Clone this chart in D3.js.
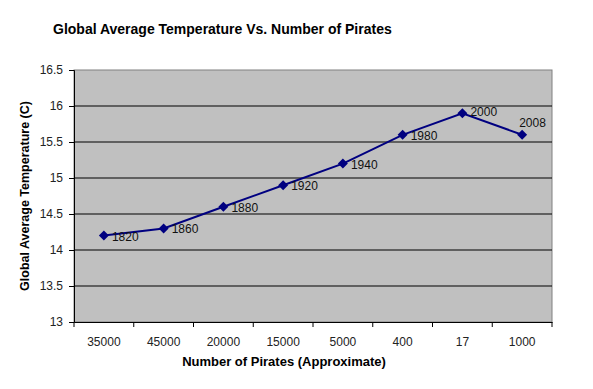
<!DOCTYPE html>
<html><head><meta charset="utf-8">
<script src="https://cdn.jsdelivr.net/npm/d3@7"></script>
<style>body{margin:0;background:#fff;}svg{display:block;font-family:Arial,"Liberation Sans",sans-serif;}</style>
</head><body><svg id="c" width="593" height="389"></svg>
<script>
const pirates = ["35000","45000","20000","15000","5000","400","17","1000"];
const temps = [14.2,14.3,14.6,14.9,15.2,15.6,15.9,15.6];
const years = ["1820","1860","1880","1920","1940","1980","2000","2008"];
const yTicks = [13,13.5,14,14.5,15,15.5,16,16.5];

const svg = d3.select("#c");
const L=74,R=552,T=70,B=322;
const x = d3.scaleBand().domain(pirates).range([L,R]);
const y = d3.scaleLinear().domain([13,16.5]).range([B,T]);

svg.append("rect").attr("x",L).attr("y",T).attr("width",R-L).attr("height",B-T)
  .attr("fill","#c0c0c0").attr("stroke","#808080").attr("stroke-width",1);

svg.append("g").selectAll("line").data(yTicks.slice(1,-1)).join("line")
  .attr("x1",L).attr("x2",R).attr("y1",d=>y(d)).attr("y2",d=>y(d))
  .attr("stroke","#000").attr("stroke-width",1);

const ya = svg.append("g").attr("transform",`translate(${L},0)`)
  .call(d3.axisLeft(y).tickValues(yTicks).tickSize(5).tickPadding(6).tickFormat(d=>d));
ya.selectAll("text").attr("font-size",12).attr("fill","#222").attr("font-family","Arial,'Liberation Sans',sans-serif");
ya.select(".domain").attr("stroke","#000");

const xa = svg.append("g").attr("transform",`translate(0,${B})`)
  .call(d3.axisBottom(x).tickSize(0).tickPadding(15));
xa.selectAll("text").attr("font-size",12).attr("fill","#222").attr("font-family","Arial,'Liberation Sans',sans-serif");
xa.select(".domain").attr("stroke","#000");
xa.selectAll(".tk").data(pirates.concat(["end"])).join("line").attr("class","tk")
  .attr("x1",(d,i)=>L+i*x.step()).attr("x2",(d,i)=>L+i*x.step())
  .attr("y1",0).attr("y2",5).attr("stroke","#000");

const cx = d=>x(d)+x.bandwidth()/2;
const line = d3.line().x((d,i)=>cx(pirates[i])).y(d=>y(d));
svg.append("path").datum(temps).attr("d",line).attr("fill","none")
  .attr("stroke","#000080").attr("stroke-width",2);

svg.append("g").selectAll("path").data(temps).join("path")
  .attr("transform",(d,i)=>`translate(${cx(pirates[i])},${y(d)}) rotate(45)`)
  .attr("d",d3.symbol(d3.symbolSquare,50)).attr("fill","#000080");

svg.append("g").selectAll("text").data(temps).join("text")
  .attr("x",(d,i)=>cx(pirates[i])+(i===7?-3:8))
  .attr("y",(d,i)=>y(d)+(i===7?-8:(i===6?3:5)))
  .attr("font-size",12).attr("fill","#111")
  .text((d,i)=>years[i]);

svg.append("text").attr("x",53).attr("y",34).attr("font-size",14).attr("font-weight","bold")
  .text("Global Average Temperature Vs. Number of Pirates");
svg.append("text").attr("x",284).attr("y",366).attr("text-anchor","middle").attr("font-size",13).attr("font-weight","bold")
  .text("Number of Pirates (Approximate)");
svg.append("text").attr("transform","translate(29,196) rotate(-90)").attr("text-anchor","middle")
  .attr("font-size",12.5).attr("font-weight","bold").text("Global Average Temperature (C)");
</script></body></html>
